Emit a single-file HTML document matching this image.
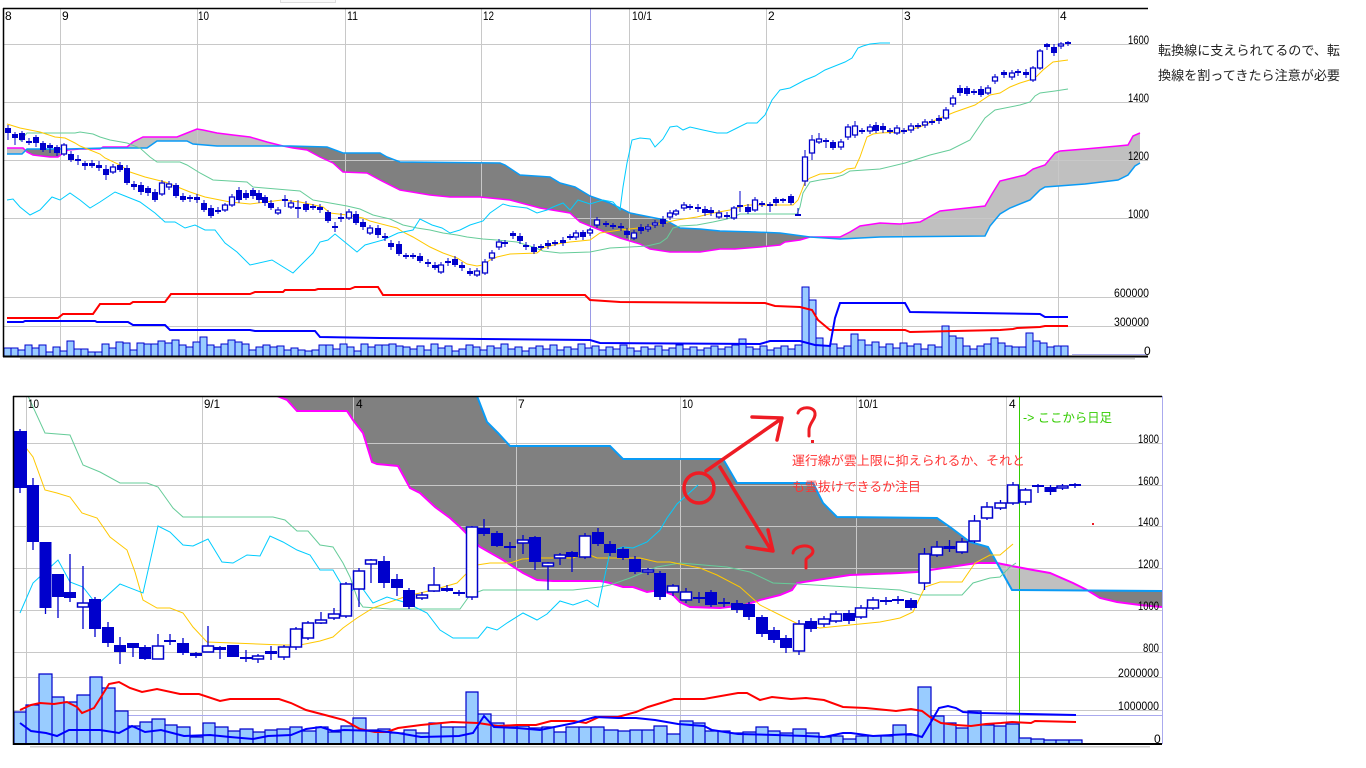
<!DOCTYPE html>
<html><head><meta charset="utf-8"><style>
html,body{margin:0;padding:0;background:#fff;}
svg{display:block;}
</style></head><body>
<svg width="1366" height="768" viewBox="0 0 1366 768" xmlns="http://www.w3.org/2000/svg" font-family="'Liberation Sans', sans-serif">
<defs>
<clipPath id="ct"><rect x="4" y="9" width="1144" height="346"/></clipPath>
<clipPath id="cb"><rect x="14" y="397" width="1148" height="346"/></clipPath>
<clipPath id="lt"><rect x="0" y="0" width="25" height="400"/><rect x="100" y="0" width="187" height="400"/><rect x="810" y="0" width="340" height="400"/></clipPath>
<clipPath id="lb"><rect x="997" y="390" width="90" height="360"/></clipPath>
</defs>
<rect width="1366" height="768" fill="#fff"/>
<rect x="280.5" y="-3" width="55" height="5.5" fill="#fafafa" stroke="#ddd"/>

<!-- ============ TOP CHART ============ -->
<g clip-path="url(#ct)">
<polygon fill="#808080" points="7,148 23,148 27,152 33,155 50,157 58,157 63,153 68,150 80,149 100,149 103,147 127,147 133,142 143,137 177,137 187,133 197,129 203,130 217,133 233,135 250,137 267,142 283,146 293,148 307,150 320,157 333,163 343,172 367,173 380,180 400,190 430,195 450,197 480,197 510,200 540,208 570,213 580,222 590,226 600,230 620,238 640,244 650,249 670,252 700,252 720,249 735,249 760,247 780,245 785,242 800,240 810,237 840,237 850,232 860,226 880,223 900,224 920,222 940,211 985,206 992,194 1000,181 1025,175 1033,169 1045,165 1055,153 1060,151 1085,149 1118,146 1128,145 1133,136 1140,133 1140,163 1135,166 1128,175 1118,180 1085,184 1045,187 1040,190 1030,200 1010,208 1000,214 990,226 985,236 880,237 840,239 810,237 780,233 755,232 720,231 700,229 680,228 665,220 650,217 630,213 610,203 590,196 575,187 560,183 550,177 520,175 505,165 500,163 400,162 387,157 380,153 343,153 327,147 290,146 217,146 193,144 187,141 157,141 147,148 105,148 67,149 27,149 22,154 7,154"/>
<polygon fill="#c0c0c0" clip-path="url(#lt)" points="7,148 23,148 27,152 33,155 50,157 58,157 63,153 68,150 80,149 100,149 103,147 127,147 133,142 143,137 177,137 187,133 197,129 203,130 217,133 233,135 250,137 267,142 283,146 293,148 307,150 320,157 333,163 343,172 367,173 380,180 400,190 430,195 450,197 480,197 510,200 540,208 570,213 580,222 590,226 600,230 620,238 640,244 650,249 670,252 700,252 720,249 735,249 760,247 780,245 785,242 800,240 810,237 840,237 850,232 860,226 880,223 900,224 920,222 940,211 985,206 992,194 1000,181 1025,175 1033,169 1045,165 1055,153 1060,151 1085,149 1118,146 1128,145 1133,136 1140,133 1140,163 1135,166 1128,175 1118,180 1085,184 1045,187 1040,190 1030,200 1010,208 1000,214 990,226 985,236 880,237 840,239 810,237 780,233 755,232 720,231 700,229 680,228 665,220 650,217 630,213 610,203 590,196 575,187 560,183 550,177 520,175 505,165 500,163 400,162 387,157 380,153 343,153 327,147 290,146 217,146 193,144 187,141 157,141 147,148 105,148 67,149 27,149 22,154 7,154"/>
</g>
<g stroke="#c8c8c8" stroke-width="1">
<path d="M60.5 8V356M197.5 8V356M345.5 8V356M481.5 8V356M629.5 8V356M766.5 8V356M902.5 8V356M1058.5 8V356"/>
<path d="M4 44.5H1148M4 102.5H1148M4 160.5H1148M4 218.5H1148M4 297.5H1148M4 326.5H1148"/>
</g>
<path d="M590.5 8V356" stroke="#9a9ae6" stroke-width="1"/>
<path d="M1072 354.5H1148" stroke="#aaaaee" stroke-width="1"/>

<g clip-path="url(#ct)" fill="none">
<polyline stroke="#ff00ff" stroke-width="1.5" points="7,148 23,148 27,152 33,155 50,157 58,157 63,153 68,150 80,149 100,149 103,147 127,147 133,142 143,137 177,137 187,133 197,129 203,130 217,133 233,135 250,137 267,142 283,146 293,148 307,150 320,157 333,163 343,172 367,173 380,180 400,190 430,195 450,197 480,197 510,200 540,208 570,213 580,222 590,226 600,230 620,238 640,244 650,249 670,252 700,252 720,249 735,249 760,247 780,245 785,242 800,240 810,237 840,237 850,232 860,226 880,223 900,224 920,222 940,211 985,206 992,194 1000,181 1025,175 1033,169 1045,165 1055,153 1060,151 1085,149 1118,146 1128,145 1133,136 1140,133"/>
<polyline stroke="#0a9bf5" stroke-width="1.5" points="7,154 22,154 27,149 67,149 105,148 147,148 157,141 187,141 193,144 217,146 290,146 327,147 343,153 380,153 387,157 400,162 500,163 505,165 520,175 550,177 560,183 575,187 590,196 610,203 630,213 650,217 665,220 680,228 700,229 720,231 755,232 780,233 810,237 840,239 880,237 985,236 990,226 1000,214 1010,208 1030,200 1040,190 1045,187 1085,184 1118,180 1128,175 1135,166 1140,163"/>
<polyline stroke="#66cc99" stroke-width="1" points="20,141 27,133 75,133 80,132 93,134 100,137 110,140 127,143 140,148 150,157 157,162 180,162 187,165 200,173 213,180 247,182 253,187 300,191 313,200 347,206 360,209 373,215 390,219 403,225 417,228 430,230 443,233 457,235 467,237 483,239 497,240 517,242 533,247 543,251 560,253 590,252 610,248 630,247 647,246 660,243 667,238 673,228 680,226 697,225 713,222 727,219 735,216 740,214 797,214 800,207 803,193 810,182 820,180 833,178 843,175 850,171 880,169 905,163 930,155 950,150 970,140 985,118 995,110 1000,109 1020,105 1030,102 1035,96 1040,93 1055,91 1068,89"/>
<polyline stroke="#ffc800" stroke-width="1" points="7,124 20,128 40,132 55,137 65,138 75,143 80,146 90,150 100,154 105,158 120,165 130,172 145,177 165,182 175,186 190,192 205,197 230,202 250,204 282,200 300,202 323,207 330,213 347,215 363,218 370,221 397,228 403,232 413,237 430,247 443,253 457,258 467,264 477,266 483,265 490,260 497,257 510,254 537,253 543,248 557,244 570,242 590,240 600,233 620,230 647,227 663,223 677,220 697,217 713,213 730,210 740,207 747,205 793,205 798,200 802,190 805,182 810,178 820,174 840,173 847,169 855,168 860,157 867,137 873,134 880,133 900,132 920,127 940,118 955,112 975,105 990,95 1000,93 1010,87 1020,83 1033,79 1037,76 1043,70 1053,62 1068,60"/>
<polyline stroke="#00ccff" stroke-width="1" points="7,200 13,199 20,207 30,215 40,210 52,197 60,200 70,193 80,200 90,208 100,202 115,192 125,196 140,202 155,213 165,222 175,222 185,228 195,225 205,230 215,230 225,243 237,252 250,265 272,260 293,273 313,253 320,242 328,240 335,234 357,252 365,245 383,240 398,233 413,230 420,219 432,225 442,228 450,233 460,230 470,225 483,221 490,213 503,204 510,206 527,208 537,213 547,210 553,207 563,203 570,210 578,200 590,204 603,200 613,202 620,210 623,187 627,163 632,140 640,138 650,139 655,147 663,139 670,127 677,126 683,130 690,127 703,130 717,133 727,133 737,128 747,123 757,123 765,115 772,100 780,90 790,88 805,80 815,76 825,70 835,66 845,62 852,58 858,48 863,46 870,44 880,43 890,43"/>
</g>

<!-- top candles -->
<path fill="none" stroke="#0000cc" stroke-width="1" d="M8 125V140M15 132V145M22 131V142M29 138V145M36 135V147M43 141V152M50 143V153M57 145V156M64 143V156M71 151V162M78 155V165M85 161V170M92 160V168M99 161V171M106 165V180M113 164V174M120 162V172M127 165V185M134 181V190M141 182V195M148 186V196M155 189V202M162 180V196M169 181V190M176 183V198M183 193V202M190 195V202M197 194V203M204 200V212M211 205V218M218 207V214M225 203V212M232 194V207M239 187V203M246 190V200M253 188V199M259 190V203M265 195V206M271 200V210M278 207V215M285 195V207M291 200V209M298 200V218M306 201V212M313 204V210M320 204V213M328 210V223M335 222V232M341 213V222M349 209V220M356 211V225M363 219V230M370 225V235M378 225V238M385 233V241M391 240V250M399 241V256M406 253V259M413 253V259M420 253V263M428 259V267M435 262V270M441 262V274M448 258V266M455 256V267M462 262V271M470 268V276M477 268V277M485 259V275M492 250V261M499 239V250M505 240V247M513 231V239M520 233V244M526 242V250M534 244V254M541 244V250M548 240V249M555 240V246M563 237V246M570 234V240M576 230V240M583 230V240M590 228V236M597 217V228M606 221V227M613 223V229M621 223V231M627 228V238M634 230V240M641 224V234M648 224V232M655 220V228M663 216V227M670 210V220M676 209V216M684 202V211M690 204V210M698 204V212M705 206V216M711 207V216M719 210V219M727 212V219M734 206V220M740 191V212M748 204V214M755 197V212M762 201V207M770 202V212M776 197V206M783 198V203M791 194V205M798 208V215M805 150V186M812 135V160M819 133V144M826 138V148M833 140V150M841 139V150M848 124V140M855 121V138M862 128V134M870 124V134M876 122V133M883 123V133M890 128V134M897 125V135M904 128V134M911 123V133M918 123V129M925 119V128M932 119V125M939 115V124M946 107V120M953 95V107M960 85V96M967 86V96M974 89V95M981 86V97M988 85V95M995 74V84M1004 70V78M1012 70V80M1018 69V76M1026 69V78M1033 66V82M1040 49V70M1047 43V50M1054 44V56M1061 42V49M1068 41V46"/>
<path fill="#0000cc" d="M5 128h6v5h-6zM12 134h6v4h-6zM19 133h6v7h-6zM33 137h6v6h-6zM40 143h6v7h-6zM47 145h6v3h-6zM54 147h6v6h-6zM68 154h6v6h-6zM75 159h6v2h-6zM82 163h6v3h-6zM89 163h6v3h-6zM96 165h6v3h-6zM103 169h6v6h-6zM117 165h6v5h-6zM124 168h6v15h-6zM131 184h6v3h-6zM138 185h6v7h-6zM145 188h6v5h-6zM152 192h6v8h-6zM173 185h6v11h-6zM180 196h6v4h-6zM194 197h6v3h-6zM201 203h6v7h-6zM208 208h6v8h-6zM236 190h6v10h-6zM243 193h6v5h-6zM250 190h6v6h-6zM256 193h6v7h-6zM262 197h6v6h-6zM268 203h6v5h-6zM303 204h6v6h-6zM317 207h6v3h-6zM325 212h6v9h-6zM353 214h6v9h-6zM360 222h6v5h-6zM375 228h6v7h-6zM382 236h6v2h-6zM388 243h6v4h-6zM396 244h6v10h-6zM417 256h6v5h-6zM425 262h6v2h-6zM432 265h6v3h-6zM452 259h6v6h-6zM459 265h6v3h-6zM467 271h6v3h-6zM510 233h6v3h-6zM517 236h6v5h-6zM531 247h6v5h-6zM545 243h6v3h-6zM560 240h6v3h-6zM580 232h6v5h-6zM618 226h6v2h-6zM624 231h6v4h-6zM638 227h6v4h-6zM660 219h6v5h-6zM695 207h6v2h-6zM702 209h6v4h-6zM708 210h6v3h-6zM745 207h6v5h-6zM773 199h6v4h-6zM788 196h6v7h-6zM830 142h6v6h-6zM873 125h6v6h-6zM880 126h6v4h-6zM936 118h6v3h-6zM957 88h6v5h-6zM964 88h6v6h-6zM978 89h6v6h-6zM1001 72h6v3h-6zM1023 72h6v3h-6zM1044 44h6v3h-6zM1051 47h6v6h-6z"/>
<path fill="#fff" stroke="#0000cc" stroke-width="1.3" d="M61.5 145h5v9h-5zM110.5 167h5v5h-5zM159.5 183h5v11h-5zM166.5 184h5v3h-5zM222.5 205h5v5h-5zM229.5 197h5v8h-5zM275.5 210h5v3h-5zM288.5 203h5v4h-5zM346.5 212h5v6h-5zM367.5 228h5v5h-5zM438.5 265h5v7h-5zM474.5 271h5v4h-5zM482.5 262h5v11h-5zM489.5 253h5v5h-5zM496.5 242h5v5h-5zM573.5 233h5v4h-5zM587.5 230h5v3h-5zM594.5 220h5v5h-5zM631.5 233h5v5h-5zM645.5 227h5v2h-5zM652.5 223h5v2h-5zM667.5 213h5v4h-5zM673.5 211h5v3h-5zM681.5 205h5v3h-5zM716.5 213h5v4h-5zM731.5 208h5v10h-5zM752.5 200h5v10h-5zM802.5 157h5v24h-5zM809.5 140h5v13h-5zM816.5 139h5v3h-5zM838.5 142h5v5h-5zM845.5 127h5v10h-5zM852.5 126h5v9h-5zM867.5 127h5v4h-5zM894.5 128h5v5h-5zM908.5 126h5v4h-5zM922.5 122h5v3h-5zM943.5 110h5v8h-5zM950.5 98h5v6h-5zM985.5 88h5v5h-5zM992.5 77h5v4h-5zM1009.5 73h5v4h-5zM1030.5 68h5v12h-5zM1037.5 51h5v17h-5zM1058.5 44h5v2h-5z"/>
<path fill="none" stroke="#0000cc" stroke-width="2" d="M26 142h6M187 198h6M215 211h6M282 200h6M295 208h6M310 207h6M332 227h6M338 218h6M403 256h6M410 256h6M445 262h6M502 243h6M523 246h6M538 247h6M552 243h6M567 237h6M603 224h6M610 226h6M687 207h6M724 216h6M737 206h6M759 204h6M767 205h6M780 200h6M795 215h6M823 141h6M859 131h6M887 131h6M901 131h6M915 126h6M929 122h6M971 92h6M1015 72h6M1065 43h6"/>

<!-- top volume -->
<path fill="#99ccff" stroke="#0000cc" stroke-width="1" d="M4 356V348h7V356M11 356V348h7V356M18 356V350h7V356M25 356V345h7V356M32 356V348h7V356M39 356V345h7V356M46 356V352h7V356M53 356V347h7V356M60 356V351h7V356M67 356V341h7V356M74 356V349h7V356M81 356V349h7V356M88 356V352h7V356M95 356V352h7V356M102 356V344h7V356M109 356V348h7V356M116 356V342h7V356M123 356V343h7V356M130 356V350h7V356M137 356V343h7V356M144 356V344h7V356M151 356V344h7V356M158 356V341h7V356M165 356V343h7V356M172 356V340h7V356M179 356V345h7V356M186 356V347h7V356M193 356V342h7V356M200 356V337h7V356M207 356V345h7V356M214 356V347h7V356M221 356V344h7V356M228 356V340h7V356M235 356V342h7V356M242 356V344h7V356M249 356V350h7V356M256 356V347h7V356M263 356V345h7V356M270 356V347h7V356M277 356V346h7V356M284 356V350h7V356M291 356V348h7V356M298 356V350h7V356M305 356V351h7V356M312 356V350h7V356M319 356V345h7V356M326 356V345h7V356M333 356V349h7V356M340 356V344h7V356M347 356V347h7V356M354 356V351h7V356M361 356V344h7V356M368 356V347h7V356M375 356V345h7V356M382 356V345h7V356M389 356V344h7V356M396 356V346h7V356M403 356V347h7V356M410 356V349h7V356M417 356V346h7V356M424 356V350h7V356M431 356V344h7V356M438 356V348h7V356M445 356V346h7V356M452 356V351h7V356M459 356V349h7V356M466 356V345h7V356M473 356V347h7V356M480 356V350h7V356M487 356V346h7V356M494 356V348h7V356M501 356V344h7V356M508 356V349h7V356M515 356V347h7V356M522 356V351h7V356M529 356V348h7V356M536 356V346h7V356M543 356V349h7V356M550 356V345h7V356M557 356V350h7V356M564 356V347h7V356M571 356V349h7V356M578 356V344h7V356M585 356V348h7V356M592 356V346h7V356M599 356V350h7V356M606 356V347h7V356M613 356V349h7V356M620 356V345h7V356M627 356V348h7V356M634 356V351h7V356M641 356V347h7V356M648 356V349h7V356M655 356V346h7V356M662 356V350h7V356M669 356V348h7V356M676 356V345h7V356M683 356V349h7V356M690 356V347h7V356M697 356V350h7V356M704 356V348h7V356M711 356V346h7V356M718 356V349h7V356M725 356V347h7V356M732 356V345h7V356M739 356V339h7V356M746 356V347h7V356M753 356V349h7V356M760 356V346h7V356M767 356V350h7V356M774 356V348h7V356M781 356V346h7V356M788 356V349h7V356M795 356V345h7V356M802 356V287h7V356M809 356V300h7V356M816 356V338h7V356M823 356V346h7V356M830 356V344h7V356M837 356V348h7V356M844 356V346h7V356M851 356V334h7V356M858 356V340h7V356M865 356V345h7V356M872 356V342h7V356M879 356V347h7V356M886 356V344h7V356M893 356V348h7V356M900 356V343h7V356M907 356V346h7V356M914 356V344h7V356M921 356V349h7V356M928 356V345h7V356M935 356V347h7V356M942 356V326h7V356M949 356V336h7V356M956 356V338h7V356M963 356V346h7V356M970 356V349h7V356M977 356V346h7V356M984 356V344h7V356M991 356V338h7V356M998 356V343h7V356M1005 356V346h7V356M1012 356V347h7V356M1019 356V347h7V356M1026 356V333h7V356M1033 356V341h7V356M1040 356V343h7V356M1047 356V347h7V356M1054 356V346h7V356M1061 356V346h7V356"/>
<polyline fill="none" stroke="#ff0000" stroke-width="2" points="7,318 58,318 63,314 93,314 100,304 130,304 133,302 165,302 171,294 250,294 255,292 283,292 285,290 315,290 318,289 350,289 355,287 378,287 383,295 585,295 590,300 620,302 765,303 775,306 800,307 812,310 818,320 830,330 905,330 910,332 1000,330 1013,329 1017,328 1040,327 1045,326 1068,326"/>
<polyline fill="none" stroke="#0000ff" stroke-width="2" points="7,322 23,322 25,321 95,321 97,322 128,322 133,325 165,325 170,330 250,330 255,331 315,331 320,337 380,338 590,340 600,343 760,344 770,341 800,341 815,345 830,346 835,318 840,303 905,303 910,312 1040,314 1045,317 1068,317"/>

<!-- top frame -->
<path d="M3 8.5H1148" stroke="#000" stroke-width="1.5"/>
<path d="M3.5 8V357" stroke="#000" stroke-width="1.5"/>
<path d="M3 356.5H1148" stroke="#000" stroke-width="2"/>
<path d="M20 358.8H1135" stroke="#cccccc" stroke-width="1.5"/>

<g font-size="12" fill="#000">
<text x="5" y="20">8</text>
<text x="62" y="20">9</text>
<text x="198" y="20" textLength="11" lengthAdjust="spacingAndGlyphs">10</text>
<text x="347" y="20" textLength="11" lengthAdjust="spacingAndGlyphs">11</text>
<text x="483" y="20" textLength="11" lengthAdjust="spacingAndGlyphs">12</text>
<text x="632" y="20" textLength="20" lengthAdjust="spacingAndGlyphs">10/1</text>
<text x="768" y="20">2</text>
<text x="904" y="20">3</text>
<text x="1060" y="20">4</text>
</g>
<g font-size="12" fill="#000">
<text x="1128" y="44" textLength="21" lengthAdjust="spacingAndGlyphs">1600</text>
<text x="1128" y="102" textLength="21" lengthAdjust="spacingAndGlyphs">1400</text>
<text x="1128" y="160" textLength="21" lengthAdjust="spacingAndGlyphs">1200</text>
<text x="1128" y="218" textLength="21" lengthAdjust="spacingAndGlyphs">1000</text>
<text x="1114" y="297" textLength="35" lengthAdjust="spacingAndGlyphs">600000</text>
<text x="1114" y="326" textLength="35" lengthAdjust="spacingAndGlyphs">300000</text>
<text x="1144" y="355">0</text>
</g>
<g font-family="'Liberation Sans','Noto Sans CJK JP',sans-serif" font-size="13" fill="#222">
<text x="1158" y="55" textLength="182" lengthAdjust="spacingAndGlyphs">転換線に支えられてるので、転</text>
<text x="1158" y="80" textLength="182" lengthAdjust="spacingAndGlyphs">換線を割ってきたら注意が必要</text>
</g>

<!-- ============ BOTTOM CHART ============ -->
<g clip-path="url(#cb)">
<polygon fill="#808080" points="277,396 287,400 297,411 347,411 353,420 363,433 372,462 377,464 398,466 410,488 420,493 435,507 450,518 460,527 480,547 503,560 523,573 537,580 553,581 600,581 610,583 623,587 633,587 647,592 660,590 673,595 680,602 690,607 720,608 745,605 760,600 780,595 792,590 797,583 850,575 900,573 917,572 950,567 977,563 997,563 1017,567 1033,570 1050,573 1073,583 1087,590 1100,598 1117,602 1140,605 1162,607 1162,591 1012,590 997,563 988,547 970,542 950,527 937,518 837,517 823,503 813,483 737,483 723,459 623,459 610,446 510,446 498,433 487,422 477,396"/>
<polygon fill="#c0c0c0" clip-path="url(#lb)" points="277,396 287,400 297,411 347,411 353,420 363,433 372,462 377,464 398,466 410,488 420,493 435,507 450,518 460,527 480,547 503,560 523,573 537,580 553,581 600,581 610,583 623,587 633,587 647,592 660,590 673,595 680,602 690,607 720,608 745,605 760,600 780,595 792,590 797,583 850,575 900,573 917,572 950,567 977,563 997,563 1017,567 1033,570 1050,573 1073,583 1087,590 1100,598 1117,602 1140,605 1162,607 1162,591 1012,590 997,563 988,547 970,542 950,527 937,518 837,517 823,503 813,483 737,483 723,459 623,459 610,446 510,446 498,433 487,422 477,396"/>
</g>
<g stroke="#c8c8c8" stroke-width="1">
<path d="M26.5 396V744M202.5 396V744M353.5 396V744M516.5 396V744M680.5 396V744M856.5 396V744M1006.5 396V744"/>
<path d="M14 443.5H1162M14 485.5H1162M14 526.5H1162M14 568.5H1162M14 610.5H1162M14 652.5H1162M14 677.5H1162M14 710.5H1162"/>
</g>
<path d="M14 715.5H1162" stroke="#aaaaee" stroke-width="1"/>
<path d="M1019.5 396V744" stroke="#33cc00" stroke-width="1"/>

<g clip-path="url(#cb)" fill="none">
<polyline stroke="#ff00ff" stroke-width="2" points="277,396 287,400 297,411 347,411 353,420 363,433 372,462 377,464 398,466 410,488 420,493 435,507 450,518 460,527 480,547 503,560 523,573 537,580 553,581 600,581 610,583 623,587 633,587 647,592 660,590 673,595 680,602 690,607 720,608 745,605 760,600 780,595 792,590 797,583 850,575 900,573 917,572 950,567 977,563 997,563 1017,567 1033,570 1050,573 1073,583 1087,590 1100,598 1117,602 1140,605 1162,607"/>
<polyline stroke="#0a9bf5" stroke-width="2" points="477,396 487,422 498,433 510,446 610,446 623,459 723,459 737,483 813,483 823,503 837,517 937,518 950,527 970,542 988,547 997,563 1012,590 1162,591"/>
<polyline stroke="#66cc99" stroke-width="1" points="26,392 28,396 45,433 70,435 83,465 100,472 120,483 147,483 158,487 173,508 183,517 273,517 285,520 297,531 308,531 320,545 333,547 343,563 350,577 358,600 363,607 390,609 460,609 470,595 483,590 573,590 600,587 610,585 630,578 657,567 680,563 727,567 750,572 773,583 797,584 900,590 920,595 962,595 973,583 990,578 1000,577 1010,567 1016,563"/>
<polyline stroke="#ffc800" stroke-width="1" points="20,440 33,457 45,490 57,493 70,497 82,513 97,518 110,537 127,550 135,572 143,600 157,608 170,608 183,613 193,627 207,642 233,643 283,645 300,645 310,643 320,641 333,637 343,628 357,618 373,608 407,596 433,590 457,583 467,573 477,565 490,563 510,563 522,559 540,558 573,558 585,553 597,558 640,558 657,562 670,562 700,568 717,575 740,587 760,605 780,615 800,625 820,628 850,625 880,622 900,618 913,612 925,587 940,582 962,582 975,563 990,555 1000,555 1013,544"/>
<polyline stroke="#00ccff" stroke-width="1" points="20,613 33,583 58,560 70,582 83,587 97,605 120,584 143,593 158,526 170,532 183,545 193,546 208,539 222,562 233,563 247,555 260,556 270,536 283,542 297,550 310,555 320,570 333,570 347,594 360,585 373,603 387,597 407,603 427,613 440,630 453,638 478,638 487,627 497,630 507,623 523,613 537,620 547,614 560,601 573,605 587,600 598,607 610,552 623,547 633,548 647,542 660,530 667,518 677,504 698,485"/>
</g>

<!-- bottom candles -->
<path fill="none" stroke="#0000cc" stroke-width="1.3" d="M20 429V493M33 478V550M45.5 542V614M58 574V618M70 554V602M83 566V629M95 597V637M108 622V647M120 637V664M133 643V657M145 645V660M158 634V659M170 634V645M183 638V655M196 652V658M208 626V652M220 646V659M233 645V657M246 650V662M258 654V663M271 646V660M284 645V660M296 627V650M308 621V640M321 612V624M334 608V620M346 582V618M359 568V607M371 559V583M384 556V588M397 574V596M409 588V609M422 592V600M434 567V592M447 585V592M459 590V596M472 526V600M484 519V536M497 531V547M510 542V558M523 535V554M535 536V570M548 562V590M560 553V565M572 551V572M585 533V559M598 528V546M610 541V556M623 547V560M635 556V574M648 568V575M660 571V600M673 584V596M686 588V603M699 592V603M711 590V607M724 598V607M737 600V613M749 602V620M762 615V637M774 627V643M786 635V653M799 620V655M811 618V632M824 616V627M836 611V623M849 610V624M861 605V619M873 597V610M886 597V605M898 596V604M911 598V610M924.5 548V590M937 541V557M949.5 540V552M962 538V554M974.5 515V543M987 502V520M1000.5 500V510M1013 482V505M1025.5 488V505M1038 484V493M1050.5 485V495M1062.5 484V490M1075 483V488"/>
<path fill="#0000cc" d="M14 431h13v57h-13zM27 485h12v57h-12zM39.5 542h12v66h-12zM52 574h12v23h-12zM64 592h12v6h-12zM89 599h12v30h-12zM102 627h12v16h-12zM114 645h12v7h-12zM127 643h12v5h-12zM139 647h12v12h-12zM177 643h12v10h-12zM190 653h12v3h-12zM214 647h12v3h-12zM227 645h12v12h-12zM265 651h12v3h-12zM378 561h12v22h-12zM391 579h12v9h-12zM403 590h12v17h-12zM441 588h12v3h-12zM453 592h12v2h-12zM478 528h12v6h-12zM491 533h12v13h-12zM529 537h12v25h-12zM566 552h12v5h-12zM592 532h12v12h-12zM604 544h12v9h-12zM617 549h12v9h-12zM629 559h12v13h-12zM654 573h12v24h-12zM705 592h12v13h-12zM731 603h12v7h-12zM743 604h12v13h-12zM756 617h12v17h-12zM768 630h12v10h-12zM780 638h12v10h-12zM805 621h12v8h-12zM843 613h12v8h-12zM905 600h12v8h-12zM943.5 546h12v3h-12zM1044.5 487h12v5h-12z"/>
<path fill="#fff" stroke="#0000cc" stroke-width="1.5" d="M77.5 603h11v4h-11zM152.5 646h11v13h-11zM202.5 646h11v6h-11zM252.5 656h11v3h-11zM278.5 647h11v10h-11zM290.5 629h11v18h-11zM302.5 623h11v15h-11zM315.5 620h11v3h-11zM328.5 614h11v4h-11zM340.5 584h11v32h-11zM353.5 571h11v18h-11zM365.5 560h11v4h-11zM416.5 595h11v3h-11zM428.5 585h11v6h-11zM466.5 527h11v70h-11zM517.5 540h11v3h-11zM542.5 563h11v3h-11zM554.5 555h11v3h-11zM579.5 536h11v21h-11zM642.5 570h11v2h-11zM667.5 586h11v6h-11zM680.5 592h11v8h-11zM793.5 624h11v27h-11zM818.5 619h11v5h-11zM830.5 614h11v7h-11zM855.5 608h11v9h-11zM867.5 600h11v8h-11zM919 554h11v29h-11zM931.5 547h11v8h-11zM956.5 542h11v10h-11zM969 521h11v20h-11zM981.5 507h11v11h-11zM995 503h11v5h-11zM1007.5 485h11v18h-11zM1020 490h11v12h-11zM1057 486h11v2h-11z"/>
<path fill="none" stroke="#0000cc" stroke-width="2" d="M164 641h12M240 658h12M504 547h12M693 598h12M718 603h12M880 601h12M892 600h12M1032 486h12M1069 485h12"/>

<!-- bottom volume -->
<path fill="#99ccff" stroke="#0000cc" stroke-width="1.2" d="M14 743V712H26V743M26 743V705H39V743M39 743V674H52V743M52 743V697H64V743M64 743V702H77V743M77 743V695H90V743M90 743V677H102V743M102 743V688H115V743M115 743V711H128V743M128 743V726H140V743M140 743V722H152V743M152 743V719H165V743M165 743V725H177V743M177 743V727H190V743M190 743V737H203V743M203 743V723H215V743M215 743V727H228V743M228 743V731H240V743M240 743V729H253V743M253 743V732H265V743M265 743V730H277V743M277 743V729H290V743M290 743V727H302V743M302 743V731H316V743M316 743V727H328V743M328 743V732H341V743M341 743V726H353V743M353 743V718H366V743M366 743V730H378V743M378 743V729H390V743M390 743V733H404V743M404 743V730H416V743M416 743V733H429V743M429 743V723H441V743M441 743V727H453V743M453 743V727H466V743M466 743V692H478V743M478 743V714H491V743M491 743V723H504V743M504 743V726H517V743M517 743V726H529V743M529 743V728H542V743M542 743V727H554V743M554 743V732H566V743M566 743V727H579V743M579 743V727H591V743M591 743V727H604V743M604 743V730H618V743M618 743V731H630V743M630 743V730H642V743M642 743V730H654V743M654 743V726H667V743M667 743V734H680V743M680 743V721H693V743M693 743V723H705V743M705 743V731H718V743M718 743V731H730V743M730 743V733H743V743M743 743V732H756V743M756 743V727H768V743M768 743V731H780V743M780 743V733H793V743M793 743V729H806V743M806 743V733H819V743M819 743V737H831V743M831 743V736H843V743M843 743V739H856V743M856 743V736H868V743M868 743V736H881V743M881 743V736H893V743M893 743V725H906V743M906 743V735H918V743M918 743V687H931V743M931 743V716H944V743M944 743V723H956V743M956 743V728H968V743M968 743V711H981V743M981 743V725H994V743M994 743V726H1006V743M1006 743V724H1019V743M1019 743V738H1031V743M1031 743V739H1044V743M1044 743V740H1056V743M1056 743V740H1069V743M1069 743V740H1082V743"/>
<polyline fill="none" stroke="#ff0000" stroke-width="2" points="20,710 31,705 40,703 54,704 67,702 77,707 82,713 94,708 101,697 109,684 119,682 130,688 142,692 157,689 180,694 199,694 220,701 230,699 279,699 291,703 306,710 325,715 344,720 360,729 375,732 387,732 398,728 421,725 452,722 478,723 498,726 517,725 536,725 551,721 574,721 586,723 599,717 618,717 636,712 648,707 674,699 704,699 738,693 747,693 760,700 772,697 791,699 806,698 824,700 843,707 866,708 896,711 911,709 922,711 930,717 941,723 956,725 971,726 986,724 1001,723 1012,722 1031,723 1035,721 1076,722"/>
<polyline fill="none" stroke="#0000ff" stroke-width="2" points="20,723 31,731 46,733 57,736 69,730 100,730 119,733 132,726 145,732 161,730 184,736 210,735 230,737 253,739 268,736 291,735 306,729 321,727 333,731 344,730 379,731 398,733 421,737 459,736 473,733 484,716 494,727 517,728 540,730 574,723 595,717 618,718 636,718 655,720 678,724 704,726 712,730 738,734 775,735 806,736 824,737 843,733 851,733 873,736 911,734 922,737 931,722 939,708 948,706 956,708 963,712 978,713 1076,715"/>

<!-- bottom frame -->
<path d="M13 396.5H1162" stroke="#000" stroke-width="1.5"/>
<path d="M13.5 396V745" stroke="#000" stroke-width="1.5"/>
<path d="M13 744H1162" stroke="#000" stroke-width="2"/>
<path d="M1162.5 396V744" stroke="#aaaaee" stroke-width="1"/>
<path d="M30 746.8H1150" stroke="#cccccc" stroke-width="1.5"/>

<g font-size="12" fill="#000">
<text x="28" y="408" textLength="11" lengthAdjust="spacingAndGlyphs">10</text>
<text x="204" y="408" textLength="16" lengthAdjust="spacingAndGlyphs">9/1</text>
<text x="356" y="408">4</text>
<text x="518" y="408">7</text>
<text x="682" y="408" textLength="11" lengthAdjust="spacingAndGlyphs">10</text>
<text x="858" y="408" textLength="20" lengthAdjust="spacingAndGlyphs">10/1</text>
<text x="1009" y="408">4</text>
</g>
<g font-size="12" fill="#000">
<text x="1138" y="443" textLength="21" lengthAdjust="spacingAndGlyphs">1800</text>
<text x="1138" y="485" textLength="21" lengthAdjust="spacingAndGlyphs">1600</text>
<text x="1138" y="526" textLength="21" lengthAdjust="spacingAndGlyphs">1400</text>
<text x="1138" y="568" textLength="21" lengthAdjust="spacingAndGlyphs">1200</text>
<text x="1138" y="610" textLength="21" lengthAdjust="spacingAndGlyphs">1000</text>
<text x="1143" y="652" textLength="16" lengthAdjust="spacingAndGlyphs">800</text>
<text x="1118" y="677" textLength="41" lengthAdjust="spacingAndGlyphs">2000000</text>
<text x="1118" y="710" textLength="41" lengthAdjust="spacingAndGlyphs">1000000</text>
<text x="1154" y="743">0</text>
</g>

<!-- annotations -->
<g fill="none" stroke="#ee1c24" stroke-width="3.5" stroke-linecap="round" stroke-linejoin="round">
<circle cx="699" cy="488" r="15"/>
<path d="M706 471L781 419M752 417L782 418L777 440"/>
<path d="M720 467L771 550M747 547L773 551L768 530"/>
<path d="M798 413C800 406 814 406 815 413C816 419 809 423 809 430V436" stroke-width="3"/>
<path d="M793 553C794 545 812 543 813 551C813 556 806 557 806 560V568" stroke-width="3"/>
</g>
<rect x="811" y="440" width="3" height="3" fill="#ee1c24"/>
<rect x="1092" y="523" width="2" height="2" fill="#ee1c24"/>
<g font-family="'Liberation Sans','Noto Sans CJK JP',sans-serif" font-size="12.5">
<text x="792" y="465" fill="#f33" textLength="233" lengthAdjust="spacingAndGlyphs">運行線が雲上限に抑えられるか、それと</text>
<text x="792" y="491" fill="#f33" textLength="129" lengthAdjust="spacingAndGlyphs">も雲抜けできるか注目</text>
<text x="1023" y="422" fill="#33cc00" textLength="89" lengthAdjust="spacingAndGlyphs">-&gt; ここから日足</text>
</g>
</svg>
</body></html>
